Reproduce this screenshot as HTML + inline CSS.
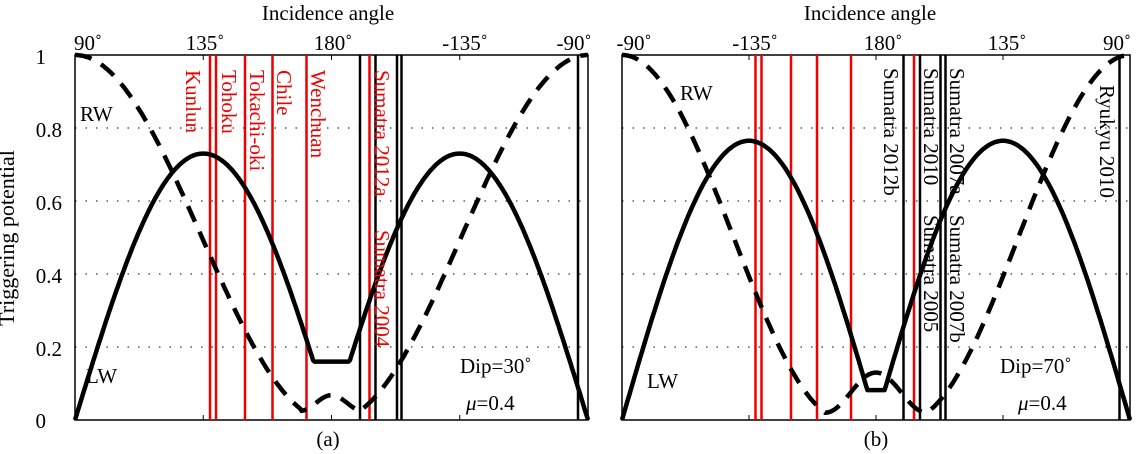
<!DOCTYPE html>
<html><head><meta charset="utf-8"><style>
html,body{margin:0;padding:0;background:#fff;}
svg{display:block;font-family:"Liberation Serif",serif;}
</style></head><body>
<svg id="s" width="1144" height="454" xmlns="http://www.w3.org/2000/svg">
<rect width="1144" height="454" fill="#fff"/>
<g id="g"></g>
<text x="14" y="238" font-size="22" text-anchor="middle" transform="rotate(-90 14 238)">Triggering potential</text>
<g font-size="21" text-anchor="end">
<text x="46" y="64">1</text><text x="62" y="137">0.8</text><text x="62" y="210">0.6</text><text x="62" y="283">0.4</text><text x="62" y="356">0.2</text><text x="46" y="428">0</text>
</g>
<g font-size="21" text-anchor="middle">
<text x="328" y="20">Incidence angle</text><text x="870" y="20">Incidence angle</text>
<text x="328" y="446">(a)</text><text x="876" y="446">(b)</text>
<text x="88" y="50">90˚</text><text x="205" y="50">135˚</text><text x="333" y="50">180˚</text><text x="465" y="50">-135˚</text><text x="574" y="50">-90˚</text>
<text x="634" y="50">-90˚</text><text x="755" y="50">-135˚</text><text x="883" y="50">180˚</text><text x="1007" y="50">135˚</text><text x="1117" y="50">90˚</text>
</g>
<g font-size="21">
<text x="80" y="121">RW</text><text x="86" y="383">LW</text>
<text x="460" y="373">Dip=30˚</text><text x="466" y="410"><tspan font-style="italic">μ</tspan>=0.4</text>
<text x="680" y="100">RW</text><text x="647" y="388">LW</text>
<text x="1000" y="373">Dip=70˚</text><text x="1018" y="410"><tspan font-style="italic">μ</tspan>=0.4</text>
</g>
<g font-size="21" fill="#e00">
<text transform="translate(186,70) rotate(90)">Kunlun</text>
<text transform="translate(222,70) rotate(90)">Tohoku</text>
<text transform="translate(250,70) rotate(90)">Tokachi-oki</text>
<text transform="translate(277,70) rotate(90)">Chile</text>
<text transform="translate(311,70) rotate(90)">Wenchuan</text>
<text transform="translate(375,70) rotate(90)">Sumatra 2012a</text>
<text transform="translate(375,230) rotate(90)">Sumatra 2004</text>
</g>
<g font-size="21" fill="#000">
<text transform="translate(884,68) rotate(90)">Sumatra 2012b</text>
<text transform="translate(924,68) rotate(90)">Sumatra 2010</text>
<text transform="translate(950,68) rotate(90)">Sumatra 2007a</text>
<text transform="translate(924,215) rotate(90)">Sumatra 2005</text>
<text transform="translate(950,215) rotate(90)">Sumatra 2007b</text>
<text transform="translate(1100,85) rotate(90)">Ryukyu 2010</text>
</g>
</svg>
<script>
var g=document.getElementById('g');var h='';
var T=55,B=420;function Y(v){return B-(B-T)*v;}
function panel(L,R,lwP,lwF,k,bz,bmin,bmax,reds,blacks){
 var W=R-L;function X(d){return L+W*d/180;}
 h+='<rect x="'+L+'" y="'+T+'" width="'+W+'" height="'+(B-T)+'" fill="none" stroke="#000" stroke-width="1.5"/>';
 for(var i=1;i<5;i++)h+='<line x1="'+L+'" x2="'+R+'" y1="'+Y(i*0.2)+'" y2="'+Y(i*0.2)+'" stroke="#000" stroke-width="1" stroke-dasharray="1.5 9"/>';
 for(var i=0;i<5;i++){var x=X(i*45);h+='<line x1="'+x+'" x2="'+x+'" y1="'+T+'" y2="'+(T+5)+'" stroke="#000"/><line x1="'+x+'" x2="'+x+'" y1="'+B+'" y2="'+(B-5)+'" stroke="#000"/>';}
 reds.forEach(function(x){h+='<line x1="'+x+'" x2="'+x+'" y1="'+T+'" y2="'+B+'" stroke="#e00" stroke-width="2.5"/>';});
 blacks.forEach(function(x){h+='<line x1="'+x+'" x2="'+x+'" y1="'+T+'" y2="'+B+'" stroke="#000" stroke-width="2.5"/>';});
 var p1='',p2='';
 for(var d=0;d<=180;d+=0.5){
  var lw=lwP*Math.abs(Math.sin(2*d*Math.PI/180));
  if(d>45&&d<135)lw=Math.max(lw,lwF);
  var m=Math.min(d,180-d),rw;
  if(Math.abs(d-90)<bz){var t=(d-90)/bz*Math.PI/2;rw=bmin+(bmax-bmin)*Math.pow(Math.cos(t),2);}
  else{var a=Math.min(k*m,90)*Math.PI/180;rw=Math.max(Math.pow(Math.cos(a),2),bmin);}
  p1+=(d?'L':'M')+X(d).toFixed(1)+' '+Y(lw).toFixed(1);
  p2+=(d?'L':'M')+X(d).toFixed(1)+' '+Y(rw).toFixed(1);
 }
 h+='<path d="'+p1+'" fill="none" stroke="#000" stroke-width="4.5" stroke-linejoin="round"/>';
 h+='<path d="'+p2+'" fill="none" stroke="#000" stroke-width="4.5" stroke-dasharray="17 11"/>';
}
panel(75,588,0.73,0.16,1.01,11,0.025,0.068,[210,216,245,272.5,306.5,369.5],[360,375.5,397,401.5,578]);
panel(622,1130,0.765,0.082,1.137,18,0.02,0.13,[755.5,761.5,791,817,851,914],[903.5,920,940.5,945.5,1119.5]);
g.innerHTML=h;
</script>
</body></html>
